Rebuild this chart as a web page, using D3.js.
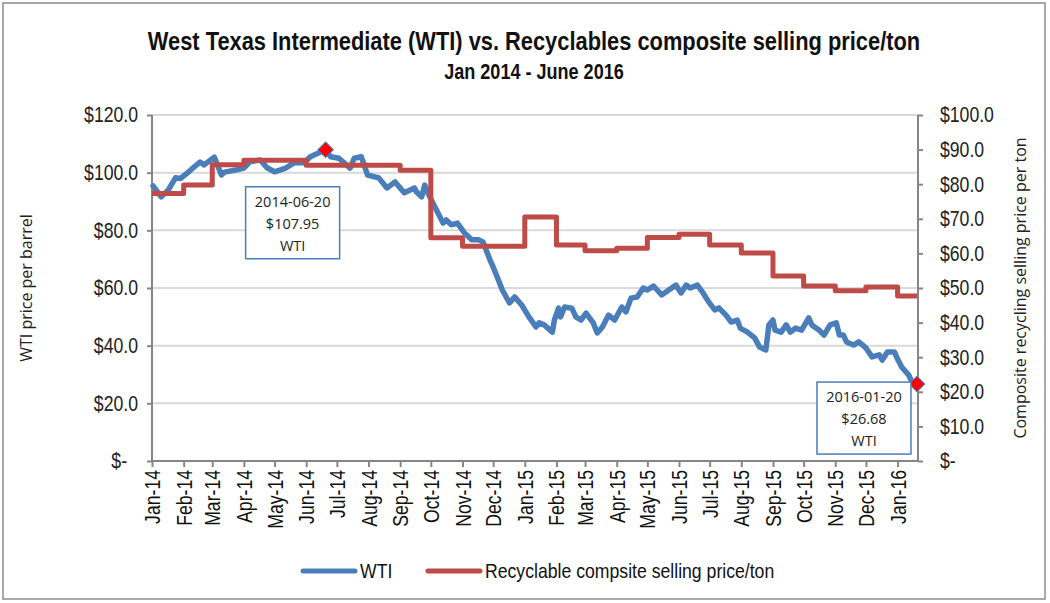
<!DOCTYPE html>
<meta charset="utf-8">
<style>
  body { margin: 0; background: #fff; }
  .narrow { font-family: "Liberation Sans", Arial, sans-serif; }
  .wide { font-family: "Open Sans", "Noto Sans", sans-serif; }
</style>
<script src="https://d3js.org/d3.v7.min.js"></script>
<div id="chart"></div>
<script>

// WTI spot price, $ per barrel
var wtiDates = ["2014-01-02","2014-01-10","2014-01-17","2014-01-24","2014-01-29","2014-02-05","2014-02-10","2014-02-17","2014-02-21","2014-03-03",
  "2014-03-10","2014-03-13","2014-03-24","2014-04-01","2014-04-07","2014-04-17","2014-04-24","2014-05-01","2014-05-12","2014-05-20",
  "2014-05-30","2014-06-05","2014-06-20","2014-06-25","2014-07-03","2014-07-14","2014-07-18","2014-07-25","2014-07-31","2014-08-11",
  "2014-08-19","2014-08-27","2014-09-05","2014-09-15","2014-09-17","2014-09-22","2014-09-25","2014-09-29","2014-10-03","2014-10-08",
  "2014-10-13","2014-10-16","2014-10-21","2014-10-27","2014-11-03","2014-11-10","2014-11-17","2014-11-21","2014-11-28","2014-12-01",
  "2014-12-05","2014-12-10","2014-12-17","2014-12-22","2014-12-29","2015-01-05","2015-01-12","2015-01-15","2015-01-20","2015-01-28",
  "2015-01-30","2015-02-03","2015-02-05","2015-02-09","2015-02-16","2015-02-20","2015-02-25","2015-03-02","2015-03-09","2015-03-13",
  "2015-03-18","2015-03-24","2015-03-30","2015-04-06","2015-04-10","2015-04-15","2015-04-21","2015-04-27","2015-05-01","2015-05-07",
  "2015-05-15","2015-05-22","2015-05-29","2015-06-03","2015-06-08","2015-06-12","2015-06-19","2015-06-24","2015-06-30","2015-07-06",
  "2015-07-10","2015-07-17","2015-07-22","2015-07-28","2015-07-31","2015-08-07","2015-08-14","2015-08-19","2015-08-25","2015-08-28",
  "2015-09-01","2015-09-03","2015-09-09","2015-09-14","2015-09-18","2015-09-23","2015-09-29","2015-10-06","2015-10-09","2015-10-16",
  "2015-10-21","2015-10-27","2015-11-02","2015-11-05","2015-11-09","2015-11-12","2015-11-19","2015-11-24","2015-12-01","2015-12-07",
  "2015-12-14","2015-12-17","2015-12-22","2015-12-29","2015-12-31","2016-01-05","2016-01-12","2016-01-15","2016-01-20"];
var wtiValues = [95.4,91.6,94.0,98.2,98.0,100.0,101.6,103.7,102.7,105.4,
  99.2,100.2,100.9,101.6,103.8,104.4,101.6,100.3,101.6,103.4,
  103.4,105.5,107.95,105.5,105.0,101.6,105.0,105.5,99.2,98.2,
  94.7,96.8,93.0,94.7,93.3,91.6,95.7,92.3,89.5,86.0,
  82.5,83.6,81.9,82.5,79.1,76.7,76.7,76.0,69.7,67.3,
  63.8,59.3,54.8,56.9,54.1,50.0,46.5,47.9,47.2,44.7,
  48.9,53.0,50.0,53.4,53.0,50.0,48.9,51.3,47.9,44.4,
  46.5,50.6,48.9,53.4,51.7,56.5,56.9,60.0,59.3,60.7,
  57.6,59.3,61.0,58.3,61.0,60.0,61.0,58.6,55.2,52.4,
  53.1,50.6,48.2,48.9,46.1,44.7,42.7,39.5,38.5,47.2,
  48.9,45.4,44.7,47.2,44.7,46.1,45.4,49.6,47.2,45.4,
  43.7,47.2,47.9,43.7,43.7,41.3,40.2,41.3,39.2,36.1,
  36.8,35.0,37.8,37.8,36.1,32.6,29.8,27.4,26.68];

// Recyclables composite selling price, $ per ton (monthly)
var recDates = ["2014-01-01","2014-02-01","2014-03-01","2014-04-01","2014-06-01","2014-09-01","2014-10-01","2014-11-01",
  "2015-01-01","2015-02-01","2015-03-01","2015-04-01","2015-05-01","2015-06-01","2015-07-01","2015-08-01","2015-09-01",
  "2015-10-01","2015-11-01","2015-12-01","2016-01-01","2016-01-20"];
var recValues = [77.3,79.8,85.6,86.9,85.5,84.0,64.5,62.1,
  70.5,62.4,60.8,61.5,64.6,65.5,62.4,60.1,53.5,
  50.6,49.2,50.3,47.7,47.7];

// highlighted WTI points
var callouts = ["2014-06-20","2016-01-20"];

var leftTicks = [0,20,40,60,80,100,120];
var rightTicks = [0,10,20,30,40,50,60,70,80,90,100];

var W = 1050, H = 603;
var margin = {top: 115, right: 132, bottom: 142, left: 152};
var parse = d3.timeParse("%Y-%m-%d");

var wti = wtiDates.map(function(d, i) { return {date: parse(d), value: wtiValues[i]}; });
var rec = recDates.map(function(d, i) { return {date: parse(d), value: recValues[i]}; });

// Arial Narrow look: squeeze Liberation Sans horizontally
function squeeze(sel, f) {
  sel.each(function() {
    var n = this.getComputedTextLength();
    d3.select(this).attr("textLength", n * f).attr("lengthAdjust", "spacingAndGlyphs");
  });
}

var svg = d3.select("#chart").append("svg")
  .attr("width", W).attr("height", H);

// outer chart frame
svg.append("rect")
  .attr("x", 3).attr("y", 3).attr("width", W - 8).attr("height", H - 7)
  .attr("fill", "#fff").attr("stroke", "#8c8c8c").attr("stroke-width", 1.5);

var x = d3.scaleTime()
  .domain([parse("2014-01-01"), parse("2016-01-21")])
  .range([margin.left, W - margin.right]);
var yL = d3.scaleLinear().domain([0, 120]).range([H - margin.bottom, margin.top]);
var yR = d3.scaleLinear().domain([0, 100]).range([H - margin.bottom, margin.top]);

var money = function(v) { return v === 0 ? "$-" : "$" + d3.format(".1f")(v); };

// gridlines
svg.append("g")
  .selectAll("line")
  .data(leftTicks.filter(function(d) { return d > 0; }))
  .enter().append("line")
    .attr("x1", margin.left).attr("x2", W - margin.right)
    .attr("y1", function(d) { return yL(d); }).attr("y2", function(d) { return yL(d); })
    .attr("stroke", "#d9d9d9").attr("stroke-width", 2);

// left axis
var gL = svg.append("g")
  .attr("transform", "translate(" + margin.left + ",0)")
  .call(d3.axisLeft(yL).tickValues(leftTicks).tickFormat(money).tickSize(5).tickPadding(9));
gL.selectAll("text").attr("class", "narrow").style("font-size", "21.5px").attr("fill", "#222")
  .attr("dx", function(d) { return d === 0 ? -11 : 0; });
squeeze(gL.selectAll("text"), 0.82);

// right axis
var gR = svg.append("g")
  .attr("transform", "translate(" + (W - margin.right) + ",0)")
  .call(d3.axisRight(yR).tickValues(rightTicks).tickFormat(money).tickSize(5).tickPadding(17));
gR.selectAll("text").attr("class", "narrow").style("font-size", "21.5px").attr("fill", "#222");
squeeze(gR.selectAll("text"), 0.82);

// bottom axis
var gX = svg.append("g")
  .attr("transform", "translate(0," + (H - margin.bottom) + ")")
  .call(d3.axisBottom(x).ticks(d3.timeMonth.every(1)).tickFormat(d3.timeFormat("%b-%y")).tickSize(6));
gX.selectAll("text")
  .attr("class", "narrow")
  .style("font-size", "21.5px").attr("fill", "#111")
  .attr("text-anchor", "end")
  .attr("transform", "rotate(-90)")
  .attr("x", -9).attr("y", 0).attr("dy", "0.35em");
squeeze(gX.selectAll("text"), 0.82);

[gL, gR, gX].forEach(function(g) {
  g.select(".domain").attr("stroke", "#868686").attr("stroke-width", 2);
  g.selectAll(".tick line").attr("stroke", "#868686").attr("stroke-width", 2);
});
gL.select(".domain").attr("d", "M0," + yL(120) + "V" + yL(0));
gR.select(".domain").attr("d", "M0," + yR(100) + "V" + yR(0));
gX.select(".domain").attr("d", "M" + margin.left + ",0H" + (W - margin.right));

// lines
var lineR = d3.line().curve(d3.curveStepAfter)
  .x(function(d) { return x(d.date); })
  .y(function(d) { return yR(d.value); });
var lineL = d3.line()
  .x(function(d) { return x(d.date); })
  .y(function(d) { return yL(d.value); });

svg.append("path").datum(wti)
  .attr("d", lineL).attr("fill", "none")
  .attr("stroke", "#4a7ebb").attr("stroke-width", 5.5)
  .attr("stroke-linejoin", "round").attr("stroke-linecap", "round");

svg.append("path").datum(rec)
  .attr("d", lineR).attr("fill", "none")
  .attr("stroke", "#be4b48").attr("stroke-width", 5)
  .attr("stroke-linejoin", "round");

// callout markers + boxes
var hits = wti.filter(function(d) { return callouts.indexOf(d3.timeFormat("%Y-%m-%d")(d.date)) >= 0; });
var boxOff = [{dx: -33, dy: 37}, {dx: -53, dy: -2}];

svg.selectAll(".mark")
  .data(hits).enter().append("path")
    .attr("class", "mark")
    .attr("d", d3.symbol().type(d3.symbolSquare).size(120))
    .attr("transform", function(d) { return "translate(" + x(d.date) + "," + yL(d.value) + ") rotate(45)"; })
    .attr("fill", "#ff0000").attr("stroke", "#4a7ebb").attr("stroke-width", 1);

var box = svg.selectAll(".callout")
  .data(hits).enter().append("g")
    .attr("class", "callout")
    .attr("transform", function(d, i) {
      return "translate(" + (x(d.date) + boxOff[i].dx) + "," + (yL(d.value) + boxOff[i].dy) + ")";
    });
box.append("rect")
  .attr("x", -47).attr("y", 0).attr("width", 94).attr("height", 72)
  .attr("fill", "#fff").attr("stroke", "#4a7ebb").attr("stroke-width", 1.5);
box.selectAll("text")
  .data(function(d) { return [d3.timeFormat("%Y-%m-%d")(d.date), "$" + d3.format(".2f")(d.value), "WTI"]; })
  .enter().append("text")
    .attr("class", "wide")
    .attr("text-anchor", "middle")
    .attr("y", function(d, i) { return 20 + i * 22; })
    .style("font-size", "14.5px").attr("fill", "#222")
    .text(function(d) { return d; });

// titles
var t1 = svg.append("text").attr("class", "narrow")
  .attr("x", 534).attr("y", 50).attr("text-anchor", "middle")
  .style("font-size", "26px").style("font-weight", "bold").attr("fill", "#111")
  .text("West Texas Intermediate (WTI) vs. Recyclables composite selling price/ton");
var t2 = svg.append("text").attr("class", "narrow")
  .attr("x", 534).attr("y", 79).attr("text-anchor", "middle")
  .style("font-size", "22px").style("font-weight", "bold").attr("fill", "#111")
  .text("Jan 2014 - June 2016");
squeeze(t1, 0.84);
squeeze(t2, 0.82);

svg.append("text").attr("class", "wide")
  .attr("transform", "translate(32," + ((margin.top + H - margin.bottom) / 2) + ") rotate(-90)")
  .attr("text-anchor", "middle").style("font-size", "16px").attr("fill", "#222")
  .text("WTI price per barrel");
svg.append("text").attr("class", "wide")
  .attr("transform", "translate(1026," + ((margin.top + H - margin.bottom) / 2) + ") rotate(-90)")
  .attr("text-anchor", "middle").style("font-size", "16px").attr("fill", "#222")
  .text("Composite recycling selling price per ton");

// legend
var legend = [
  {name: "WTI", color: "#4a7ebb", x: 303},
  {name: "Recyclable compsite selling price/ton", color: "#be4b48", x: 428}
];
var lg = svg.selectAll(".legend")
  .data(legend).enter().append("g")
    .attr("class", "legend")
    .attr("transform", function(d) { return "translate(" + d.x + ",571)"; });
lg.append("line")
  .attr("x1", 0).attr("x2", 52)
  .attr("stroke", function(d) { return d.color; })
  .attr("stroke-width", 5).attr("stroke-linecap", "round");
lg.append("text").attr("class", "narrow")
  .attr("x", 57).attr("dy", "0.35em")
  .style("font-size", "21px").attr("fill", "#111")
  .text(function(d) { return d.name; });
squeeze(lg.selectAll("text"), 0.84);

</script>
